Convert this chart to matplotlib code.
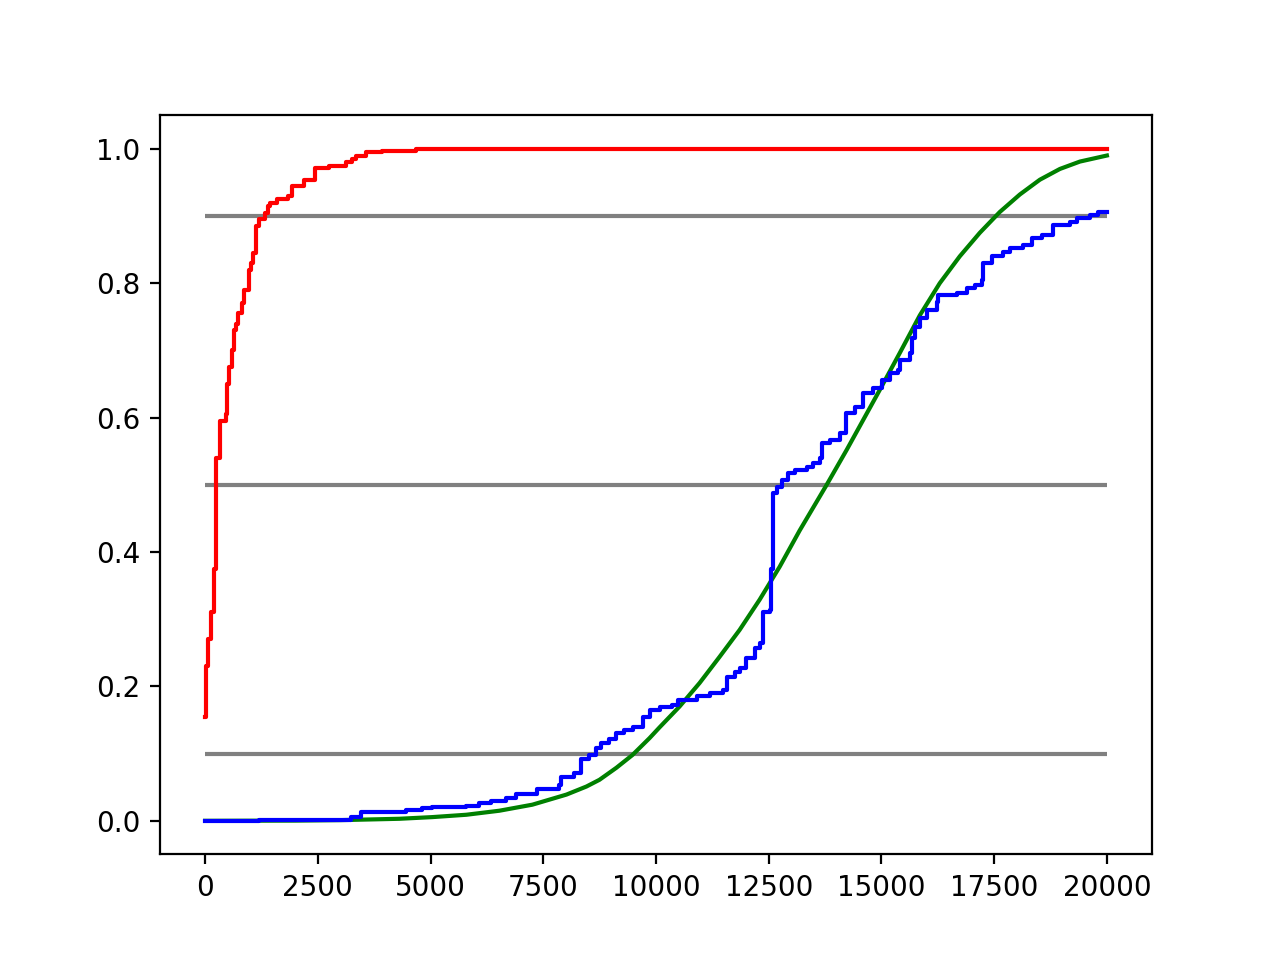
import matplotlib
matplotlib.use("Agg")
import matplotlib.pyplot as plt

# Red empirical CDF (step points: x, level from x onward)
red_x = [0, 20, 60, 120, 140, 200, 240, 330, 470, 480, 540, 590, 650, 680, 730, 820, 860,
         980, 1020, 1060, 1130, 1200, 1320, 1400, 1440, 1600, 1840, 1920, 2200, 2442,
         2750, 3130, 3260, 3350, 3560, 3920, 4680, 4820, 20000]
red_y = [0.155, 0.23, 0.27, 0.28, 0.31, 0.375, 0.54, 0.595, 0.605, 0.65, 0.675, 0.70, 0.73,
         0.74, 0.755, 0.77, 0.79, 0.82, 0.83, 0.845, 0.885, 0.895, 0.905, 0.915, 0.92,
         0.925, 0.93, 0.945, 0.954, 0.972, 0.975, 0.98, 0.985, 0.99, 0.995, 0.997, 0.999,
         1.0, 1.0]

# Blue empirical CDF
blue_x = [0, 1199, 3241, 3463, 4462, 4817, 5039, 5794, 6082, 6349, 6682, 6904, 7370, 7858,
          7903, 8191, 8346, 8524, 8679, 8790, 8968, 9123, 9301, 9479, 9701, 9856, 10078,
          10344, 10477, 10899, 11188, 11476, 11565, 11743, 11854, 11987, 12187, 12298,
          12364, 12520, 12542, 12586, 12675, 12786, 12919, 13075, 13341, 13474, 13630,
          13674, 13851, 14074, 14207, 14407, 14584, 14806, 15006, 15183, 15361, 15405,
          15627, 15672, 15738, 15849, 16005, 16227, 16249, 16671, 16893, 17070, 17226,
          17248, 17448, 17692, 17847, 18136, 18336, 18557, 18802, 19179, 19335, 19623,
          19801, 20000]
blue_y = [0.0, 0.001, 0.006, 0.013, 0.016, 0.019, 0.021, 0.022, 0.027, 0.030, 0.034, 0.040,
          0.047, 0.054, 0.065, 0.071, 0.092, 0.098, 0.108, 0.116, 0.122, 0.130, 0.135,
          0.140, 0.155, 0.165, 0.170, 0.173, 0.180, 0.185, 0.190, 0.195, 0.214, 0.222,
          0.228, 0.243, 0.257, 0.265, 0.311, 0.314, 0.374, 0.488, 0.497, 0.507, 0.518,
          0.522, 0.527, 0.533, 0.540, 0.562, 0.567, 0.577, 0.607, 0.616, 0.637, 0.644,
          0.656, 0.667, 0.671, 0.686, 0.696, 0.719, 0.735, 0.748, 0.760, 0.772, 0.783,
          0.786, 0.793, 0.798, 0.805, 0.830, 0.841, 0.847, 0.853, 0.857, 0.868, 0.872,
          0.887, 0.891, 0.897, 0.902, 0.906, 0.906]

# Green smooth reference CDF
green_x = [0, 2000, 3000, 4306, 5039, 5794, 6526, 7259, 8014, 8457, 8746, 9123, 9479, 9856,
           10078, 10522, 10966, 11410, 11854, 12298, 12742, 13186, 13785, 14229, 14673,
           14961, 15405, 15849, 16293, 16737, 17181, 17625, 18069, 18513, 18957, 19401,
           20000]
green_y = [0.0, 0.0003, 0.001, 0.003, 0.0055, 0.009, 0.015, 0.024, 0.039, 0.051, 0.061,
           0.079, 0.098, 0.123, 0.139, 0.170, 0.205, 0.244, 0.284, 0.329, 0.378, 0.432,
           0.500, 0.552, 0.606, 0.641, 0.696, 0.752, 0.800, 0.840, 0.875, 0.906, 0.932,
           0.954, 0.970, 0.981, 0.990]

# Horizontal reference levels
levels = [0.1, 0.5, 0.9]
level_xmin, level_xmax = 0, 20000

fig, ax = plt.subplots(figsize=(6.4, 4.8), dpi=200)
ax.hlines(levels, level_xmin, level_xmax, colors="gray")
ax.plot(green_x, green_y, color="green")
ax.plot(red_x, red_y, color="red", drawstyle="steps-post")
ax.plot(blue_x, blue_y, color="blue", drawstyle="steps-post")
fig.savefig("out.png", dpi=200)
